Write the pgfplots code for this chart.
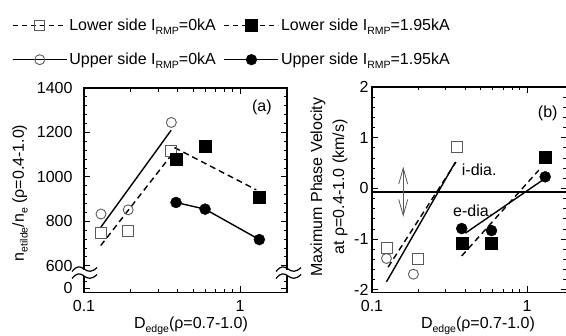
\documentclass[border=0pt]{standalone}
\usepackage{fontspec}
\setmainfont{Liberation Sans}
\usepackage{pgfplots}
\pgfplotsset{compat=1.18}
\usetikzlibrary{arrows.meta}
\newcommand{\sub}[1]{\raisebox{-0.45ex}{\fontsize{10.5}{11}\selectfont #1}}
\definecolor{opengray}{HTML}{5A5A5A}
\pgfplotsset{
  opensq/.style={only marks, mark=square, mark size=5.5pt, mark options={draw=opengray, line width=0.9pt, fill=none, solid}},
  fillsq/.style={only marks, mark=square*, mark size=6pt, mark options={draw=black, fill=black, solid}},
  openci/.style={only marks, mark=o, mark size=5pt, mark options={draw=opengray, line width=0.9pt, fill=none, solid}},
  fillci/.style={only marks, mark=*, mark size=5.5pt, mark options={draw=black, fill=black, solid}},
  fitsolid/.style={black, line width=1.4pt, no marks},
  fitdash/.style={black, line width=1.4pt, no marks, dash pattern=on 6pt off 4pt},
}
\begin{document}
\begin{tikzpicture}[font=\fontsize{16}{18}\selectfont]
\useasboundingbox (0pt,0pt) rectangle (566pt,-336pt);
% ---------------- panel (a)
\begin{axis}[scale only axis, xmode=log,
  axis line style={line width=1.3pt},
  every tick/.style={line width=1pt, black},
  major tick length=6pt, minor tick length=3.5pt, tick align=inside,
  tick label style={font=\fontsize{16}{18}\selectfont},
  xticklabel style={yshift=-4pt},
  yticklabel style={xshift=-8pt},
  xtick={0.1,1}, xticklabels={0.1,1},
  minor xtick={0.2,0.3,0.4,0.5,0.6,0.7,0.8,0.9},
  clip=false,
  at={(84pt,-292.5pt)}, anchor=south west, width=203pt, height=204.5pt,
  xmin=0.1, xmax=2, ymin=480, ymax=1400,
  ytick={500,600,800,1000,1200,1400}, yticklabels={0,600,800,1000,1200,1400},
  minor ytick={530,640,680,720,760,840,880,920,960,1040,1080,1120,1160,1240,1280,1320,1360},
  legend columns=2,
  legend cell align=left,
  legend style={draw=none, fill=none, inner sep=0pt, anchor=north west,
    at={(axis description cs:-0.355,1.348)}, row sep=17pt,
    font=\fontsize{16}{18}\selectfont,
    /tikz/every even column/.append style={column sep=6pt}},
  legend image code/.code={\draw[mark repeat=2,mark phase=2,#1] plot coordinates {(0pt,0pt) (27pt,0pt) (54pt,0pt)};},
]
\addlegendimage{black, line width=1.2pt, dash pattern=on 5pt off 4pt, mark=square, mark size=5pt, mark options={draw=opengray, line width=0.9pt, fill=none, solid}}
\addlegendentry{Lower side I\sub{RMP}=0kA}
\addlegendimage{black, line width=1.2pt, dash pattern=on 5pt off 4pt, mark=square*, mark size=5.5pt, mark options={fill=black, solid}}
\addlegendentry{Lower side I\sub{RMP}=1.95kA}
\addlegendimage{black, line width=1.2pt, mark=o, mark size=5pt, mark options={draw=opengray, line width=0.9pt, fill=none, solid}}
\addlegendentry{Upper side I\sub{RMP}=0kA}
\addlegendimage{black, line width=1.2pt, mark=*, mark size=5pt, mark options={fill=black, solid}}
\addlegendentry{Upper side I\sub{RMP}=1.95kA}
% fit lines
\addplot[fitsolid, forget plot] coordinates {(0.128,773) (0.362,1210)};
\addplot[fitdash, forget plot] coordinates {(0.128,691) (0.36,1095)};
\addplot[fitdash, forget plot] coordinates {(0.38,1132) (1.27,942)};
\addplot[fitsolid, forget plot] coordinates {(0.389,885) (0.597,855) (1.33,718)};
% markers
\addplot[openci, forget plot] coordinates {(0.1285,833) (0.192,852) (0.363,1245)};
\addplot[opensq, forget plot] coordinates {(0.128,748) (0.192,758) (0.36,1116)};
\addplot[fillsq, forget plot] coordinates {(0.39,1079) (0.60,1139) (1.33,908)};
\addplot[fillci, forget plot] coordinates {(0.389,885) (0.597,855) (1.33,718)};
\node at (axis cs:1.38,1312) {(a)};
\end{axis}
% axis breaks panel (a)
\begin{scope}[x=1pt,y=1pt]
\fill[white] (80,-270) rectangle (88,-276);
\fill[white] (284,-270) rectangle (292,-276);
\draw[line width=1.2pt] (72,-271.5) .. controls (77,-265.5) and (80,-266) .. (84,-269) .. controls (88,-272) and (92,-272.5) .. (97,-267.5);
\draw[line width=1.2pt] (72,-278.5) .. controls (77,-272.5) and (80,-273) .. (84,-276) .. controls (88,-279) and (92,-279.5) .. (97,-274.5);
\draw[line width=1.2pt] (276,-271.5) .. controls (281,-265.5) and (284,-266) .. (288,-269) .. controls (292,-272) and (296,-272.5) .. (301,-267.5);
\draw[line width=1.2pt] (276,-278.5) .. controls (281,-272.5) and (284,-273) .. (288,-276) .. controls (292,-279) and (296,-279.5) .. (301,-274.5);
\end{scope}
% ---------------- panel (b)
\begin{axis}[scale only axis, xmode=log,
  axis line style={line width=1.3pt},
  every tick/.style={line width=1pt, black},
  major tick length=6pt, minor tick length=3.5pt, tick align=inside,
  tick label style={font=\fontsize{16}{18}\selectfont},
  xticklabel style={yshift=-4pt},
  xtick={0.1,1}, xticklabels={0.1,1},
  minor xtick={0.2,0.3,0.4,0.5,0.6,0.7,0.8,0.9},
  clip=false,
  at={(372pt,-292.5pt)}, anchor=south west, width=194.6pt, height=205.5pt,
  xmin=0.1, xmax=1.8, ymin=-2.05, ymax=2.0,
  ytick={-2,-1,0,1,2}, yticklabels={-2,-1,0,1,2}, minor y tick num=4,
]
\addplot[black, line width=1.2pt, no marks] coordinates {(0.1,-0.07) (1.8,-0.07)};
\addplot[opengray, line width=0.8pt, no marks, {Straight Barb[length=16pt,width=9pt]}-{Straight Barb[length=16pt,width=9pt]}] coordinates {(0.159,0.43) (0.159,-0.56)};
\addplot[fitsolid] coordinates {(0.124,-1.84) (0.345,0.52)};
\addplot[fitdash] coordinates {(0.127,-1.55) (0.348,0.52)};
\addplot[fitsolid] coordinates {(0.40,-0.88) (1.31,0.2)};
\addplot[fitdash] coordinates {(0.379,-1.33) (1.19,0.36)};
\addplot[openci] coordinates {(0.124,-1.38) (0.185,-1.69)};
\addplot[opensq] coordinates {(0.1245,-1.18) (0.197,-1.38) (0.352,0.82)};
\addplot[fillsq] coordinates {(0.379,-1.07) (0.59,-1.07) (1.31,0.62)};
\addplot[fillci] coordinates {(0.379,-0.79) (0.59,-0.83) (1.31,0.23)};
\node[anchor=west, inner sep=0pt] at (axis cs:0.379,0.36) {i-dia.};
\node[anchor=west, inner sep=0pt] at (axis cs:0.333,-0.43) {e-dia.};
\node at (axis cs:1.36,1.49) {(b)};
\end{axis}
% labels
\begin{scope}[x=1pt,y=1pt]
\node[rotate=90] at (20,-193) {n\sub{etilde}/n\sub{e} (ρ=0.4-1.0)};
\node at (191,-326) {D\sub{edge}(ρ=0.7-1.0)};
\node[rotate=90, align=center, font=\fontsize{16}{22}\selectfont] at (329,-187) {Maximum Phase Velocity\\at ρ=0.4-1.0 (km/s)};
\node at (478,-326) {D\sub{edge}(ρ=0.7-1.0)};
\end{scope}
\end{tikzpicture}
\end{document}
